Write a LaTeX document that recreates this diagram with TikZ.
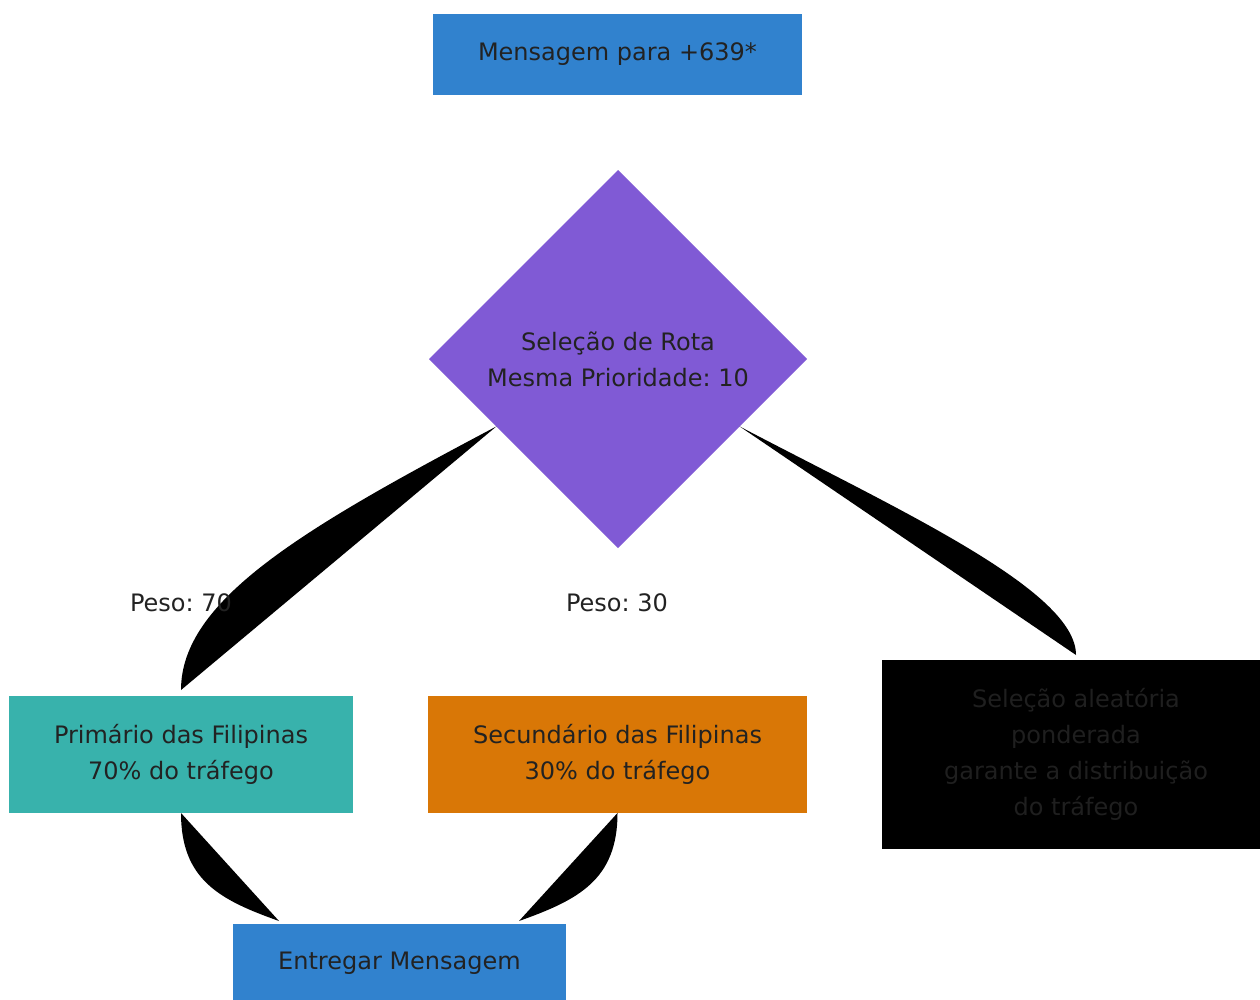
\documentclass[tikz,border=0pt]{standalone}
\usepackage{fontspec}
\setmainfont{DejaVu Sans}
\usetikzlibrary{shapes.geometric}
\frenchspacing

\definecolor{msgblue}{HTML}{3182CE}
\definecolor{rotapurple}{HTML}{805AD5}
\definecolor{primteal}{HTML}{38B2AC}
\definecolor{secorange}{HTML}{D97706}
\definecolor{txtgray}{HTML}{222222}

\begin{document}
\begin{tikzpicture}[x=1pt,y=-1pt,
	box/.style={rectangle,inner sep=0pt,outer sep=0pt,align=center,text=txtgray,
		font=\fontsize{24}{36}\selectfont},
	lbl/.style={inner sep=0pt,text=txtgray,font=\fontsize{24}{36}\selectfont}]
\useasboundingbox (0,0) rectangle (1260,999);

\node[box,fill=msgblue,minimum width=369pt,minimum height=81pt] (M) at (617.5,54.5) {Mensagem para +639*};
\node[box,diamond,fill=rotapurple,minimum width=378pt,minimum height=378pt] (R) at (618,359) {Seleção de Rota\\Mesma Prioridade: 10};
\node[box,fill=primteal,minimum width=344pt,minimum height=117pt] (P) at (181,754.5) {Primário das Filipinas\\70\% do tráfego};
\node[box,fill=secorange,minimum width=379pt,minimum height=117pt] (S) at (617.5,754.5) {Secundário das Filipinas\\30\% do tráfego};
\node[box,fill=black,text=black!88!white,minimum width=388pt,minimum height=189pt] (N) at (1076,754.5) {Seleção aleatória\\ponderada\\garante a distribuição\\do tráfego};
\node[box,fill=msgblue,minimum width=333pt,minimum height=78pt] (E) at (399.5,963) {Entregar Mensagem};

% edges
\fill (R.-151) .. controls +(-193,102) and +(0,-90) .. ([yshift=6pt]P.north) -- cycle;
\fill (R.-29) .. controls +(158,83) and +(0,-65) .. ([yshift=5pt]N.north) -- cycle;
\fill (P.south) .. controls +(0,67) and +(-59,-21) .. ([xshift=-120.5pt,yshift=3pt]E.north) -- cycle;
\fill (S.south) .. controls +(0,67) and +(59,-21) .. ([xshift=119.5pt,yshift=3pt]E.north) -- cycle;

\node[lbl] (W1) at (181,603) {Peso: 70};
\node[lbl] (W2) at (617,603) {Peso: 30};

\end{tikzpicture}
\end{document}
